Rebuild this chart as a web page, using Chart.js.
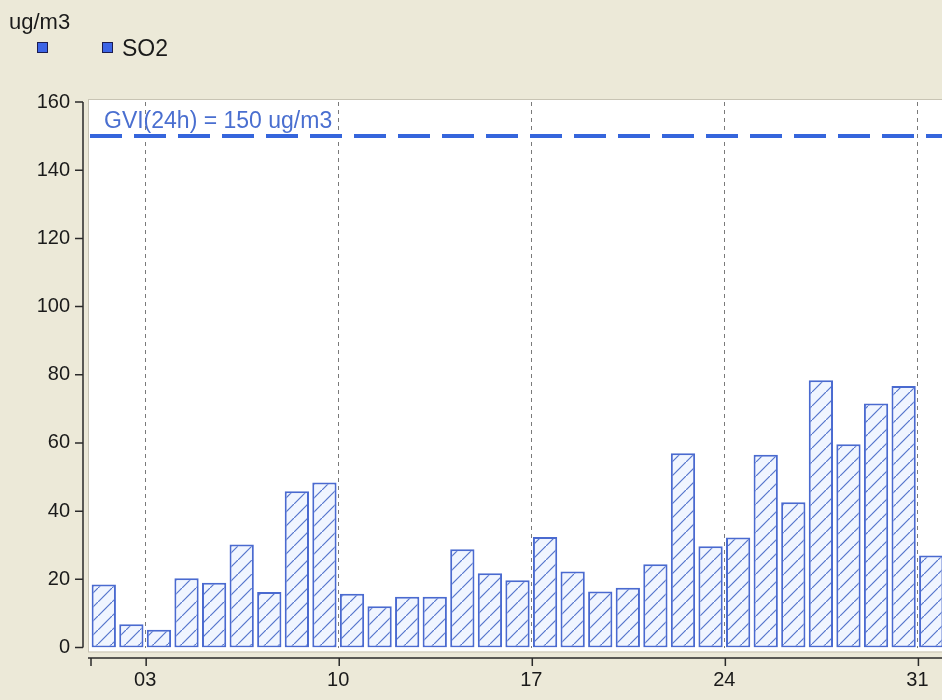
<!DOCTYPE html>
<html>
<head>
<meta charset="utf-8">
<script src="https://cdn.jsdelivr.net/npm/chart.js@4/dist/chart.umd.min.js"></script>
<style>
  html, body { margin: 0; padding: 0; background: #ece9d8; overflow: hidden; }
  #wrap { width: 942px; height: 700px; overflow: hidden; }
</style>
</head>
<body>
<div id="wrap"><canvas id="so2Chart" width="952" height="700"></canvas></div>
<script>
// daily SO2 values (ug/m3), one per day of the month
const days = [1, 2, 3, 4, 5, 6, 7, 8, 9, 10, 11, 12, 13, 14, 15, 16,
              17, 18, 19, 20, 21, 22, 23, 24, 25, 26, 27, 28, 29, 30, 31];
const so2 = [18.5, 6.8, 5.2, 20.3, 19, 30.2, 16.3, 45.8, 48.4, 15.8, 12.1, 14.9, 14.9, 28.8, 21.8, 19.7,
             32.4, 22.3, 16.4, 17.5, 24.4, 57, 29.7, 32.3, 56.5, 42.6, 78.4, 59.6, 71.6, 76.7, 27];
const limitValue = 150;
const limitLabel = 'GVI(24h) = 150 ug/m3';
const tickDays = [3, 10, 17, 24, 31];
const tickLabels = ['03', '10', '17', '24', '31'];
const unitLabel = 'ug/m3';

const FONT = '"Liberation Sans", Arial, sans-serif';

// hatch pattern for the bars
function makeHatch() {
    const c = document.createElement('canvas');
    c.width = 14; c.height = 14;
    const g = c.getContext('2d');
    g.fillStyle = '#f0f5ff';
    g.fillRect(0, 0, 14, 14);
    g.strokeStyle = '#5474cc';
    g.lineWidth = 1.2;
    g.beginPath();
    g.moveTo(-1, 15); g.lineTo(15, -1);
    g.stroke();
    return g.createPattern(c, 'repeat');
}

const decor = {
    id: 'decor',
    beforeDraw(chart) {
        const { ctx, chartArea: a } = chart;
        ctx.save();
        ctx.fillStyle = '#ece9d8';
        ctx.fillRect(0, 0, chart.width, chart.height);
        ctx.fillStyle = '#ffffff';
        ctx.fillRect(a.left - 1, a.top - 2, a.right - a.left + 2, a.bottom - a.top + 6);
        ctx.strokeStyle = '#c8c4b4';
        ctx.lineWidth = 1;
        ctx.strokeRect(a.left - 1.5, a.top - 2.5, a.right - a.left + 3, a.bottom - a.top + 7);
        ctx.restore();
    },
    afterDatasetsDraw(chart) {
        const y = chart.scales.y;
        const ctx = chart.ctx;
        ctx.save();
        ctx.fillStyle = '#4a6fd0';
        ctx.font = '23px ' + FONT;
        ctx.textBaseline = 'alphabetic';
        ctx.textAlign = 'left';
        ctx.fillText(limitLabel, 104, y.getPixelForValue(limitValue) - 8);
        ctx.restore();
    },
    afterDraw(chart) {
        const { ctx, chartArea: a } = chart;
        const x = chart.scales.x, y = chart.scales.y;
        ctx.save();
        ctx.strokeStyle = '#2a2a2a';
        ctx.lineWidth = 1.5;
        // y axis line + ticks
        const ax = a.left - 7;
        ctx.beginPath();
        ctx.moveTo(ax, y.getPixelForValue(160));
        ctx.lineTo(ax, y.getPixelForValue(0));
        y.ticks.forEach(t => {
            const py = y.getPixelForValue(t.value);
            ctx.moveTo(ax - 8, py); ctx.lineTo(ax, py);
        });
        ctx.stroke();
        // x axis line + ticks
        const ay = a.bottom + 10.5;
        ctx.beginPath();
        ctx.moveTo(a.left - 2, ay);
        ctx.lineTo(chart.width, ay);
        [x.min].concat(tickDays).forEach(d => {
            const px = x.getPixelForValue(d) + 1;
            ctx.moveTo(px, ay); ctx.lineTo(px, ay + 8);
        });
        ctx.stroke();

        // unit label and legend
        ctx.fillStyle = '#1a1a1a';
        ctx.font = '22px ' + FONT;
        ctx.textBaseline = 'alphabetic';
        ctx.textAlign = 'left';
        ctx.fillText(unitLabel, 9, 29);
        const legendX = [37, 102];
        chart.data.datasets.forEach((ds, i) => {
            const bx = legendX[i];
            ctx.fillStyle = '#3c64e6';
            ctx.fillRect(bx, 42, 11, 11);
            ctx.strokeStyle = '#1c1c50';
            ctx.lineWidth = 1;
            ctx.strokeRect(bx + 0.5, 42.5, 10, 10);
            if (ds.label) {
                ctx.fillStyle = '#1a1a1a';
                ctx.font = '23px ' + FONT;
                ctx.fillText(ds.label, bx + 20, 56);
            }
        });
        ctx.restore();
    }
};

window.onload = function() {
    const ctx = document.getElementById('so2Chart').getContext('2d');

    const data = {
        datasets: [{
            type: 'line',
            label: '',
            data: [{ x: 1, y: limitValue }, { x: 32, y: limitValue }],
            borderColor: '#3565dc',
            borderWidth: 4,
            borderDash: [32, 12],
            pointRadius: 0,
            order: 0
        }, {
            type: 'bar',
            label: 'SO2',
            data: days.map((d, i) => ({ x: d + 0.5, y: so2[i] })),
            backgroundColor: makeHatch(),
            borderColor: '#4a6ad0',
            borderWidth: 2,
            borderSkipped: false,
            barPercentage: 1,
            categoryPercentage: 0.88,
            order: 1
        }]
    };

    const options = {
        responsive: false,
        animation: false,
        layout: { padding: { top: 102, left: 0, right: 7, bottom: 0 } },
        plugins: {
            legend: { display: false },
            tooltip: { enabled: false }
        },
        scales: {
            x: {
                type: 'linear',
                min: 1,
                max: 32,
                offset: false,
                afterBuildTicks: scale => { scale.ticks = tickDays.map(v => ({ value: v })); },
                afterFit: scale => { scale.height = 52.5; },
                grid: { offset: false, color: '#7a7a7a', lineWidth: 1, drawTicks: false },
                border: { display: false, dash: [4, 4] },
                ticks: {
                    padding: 21,
                    color: '#1a1a1a',
                    font: { family: FONT, size: 20 },
                    maxRotation: 0,
                    callback: (v) => tickLabels[tickDays.indexOf(v)]
                }
            },
            y: {
                min: 0,
                max: 160,
                afterFit: scale => { scale.width = 90; },
                grid: { display: false, drawTicks: false },
                border: { display: false },
                ticks: {
                    stepSize: 20,
                    padding: 20,
                    color: '#1a1a1a',
                    font: { family: FONT, size: 20 }
                }
            }
        }
    };

    new Chart(ctx, {
        type: 'bar',
        data: data,
        options: options,
        plugins: [decor]
    });
};
</script>
</body>
</html>
